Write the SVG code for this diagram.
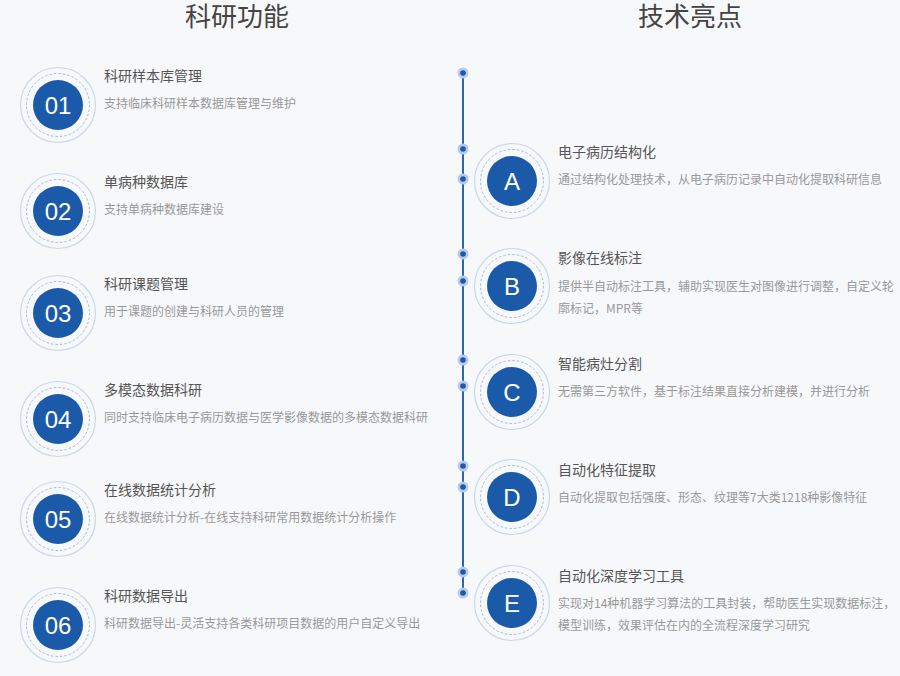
<svg xmlns="http://www.w3.org/2000/svg" width="900" height="676" viewBox="0 0 900 676">
<defs>
<style>
.bg{fill:#f7f8fa}
.hd{font-family:"Noto Sans CJK SC","Liberation Sans",sans-serif;font-size:26px;fill:#444;text-anchor:middle}
.o{fill:none;stroke:#c9d8ee;stroke-width:1.2}
.d{fill:none;stroke:#9fb9de;stroke-width:1;stroke-dasharray:2.5 2}
.f{fill:#1b5aa9}
.n{font-family:"Liberation Sans",Arial,sans-serif;font-size:24px;fill:#fff;text-anchor:middle}
.t{font-family:"Noto Sans CJK SC","Liberation Sans",sans-serif;font-size:14px;fill:#555}
.s{font-family:"Noto Sans CJK SC","Liberation Sans",sans-serif;font-size:12px;fill:#999}
.dl{fill:#b9cbed}
.dd{fill:#1b5aa9}
</style>
</defs>
<rect class="bg" x="0" y="0" width="900" height="676"/>
<text class="hd" x="237" y="26">科研功能</text>
<text class="hd" x="690" y="26">技术亮点</text>

<g id="timeline">
<line x1="463" y1="73" x2="463" y2="593" stroke="#2e64ae" stroke-width="2"/>
<g>
<circle class="dl" cx="463" cy="73" r="5.5"/><circle class="dd" cx="463" cy="73" r="2.8"/>
<circle class="dl" cx="463" cy="149" r="5.5"/><circle class="dd" cx="463" cy="149" r="2.8"/>
<circle class="dl" cx="463" cy="179" r="5.5"/><circle class="dd" cx="463" cy="179" r="2.8"/>
<circle class="dl" cx="463" cy="254" r="5.5"/><circle class="dd" cx="463" cy="254" r="2.8"/>
<circle class="dl" cx="463" cy="281" r="5.5"/><circle class="dd" cx="463" cy="281" r="2.8"/>
<circle class="dl" cx="463" cy="360" r="5.5"/><circle class="dd" cx="463" cy="360" r="2.8"/>
<circle class="dl" cx="463" cy="386" r="5.5"/><circle class="dd" cx="463" cy="386" r="2.8"/>
<circle class="dl" cx="463" cy="466" r="5.5"/><circle class="dd" cx="463" cy="466" r="2.8"/>
<circle class="dl" cx="463" cy="487" r="5.5"/><circle class="dd" cx="463" cy="487" r="2.8"/>
<circle class="dl" cx="463" cy="572" r="5.5"/><circle class="dd" cx="463" cy="572" r="2.8"/>
<circle class="dl" cx="463" cy="593" r="5.5"/><circle class="dd" cx="463" cy="593" r="2.8"/>
</g>
</g>

<g id="f01">
<circle class="o" cx="58" cy="105" r="37.5"/><circle class="d" cx="58" cy="105" r="31.5"/><circle class="f" cx="58" cy="105" r="25"/>
<text class="n" x="58" y="113.5">01</text>
<text class="t" x="104" y="81">科研样本库管理</text>
<text class="s" x="104" y="108">支持临床科研样本数据库管理与维护</text>
</g>
<g id="f02">
<circle class="o" cx="58" cy="211" r="37.5"/><circle class="d" cx="58" cy="211" r="31.5"/><circle class="f" cx="58" cy="211" r="25"/>
<text class="n" x="58" y="219.5">02</text>
<text class="t" x="104" y="187">单病种数据库</text>
<text class="s" x="104" y="214">支持单病种数据库建设</text>
</g>
<g id="f03">
<circle class="o" cx="58" cy="313" r="37.5"/><circle class="d" cx="58" cy="313" r="31.5"/><circle class="f" cx="58" cy="313" r="25"/>
<text class="n" x="58" y="321.5">03</text>
<text class="t" x="104" y="289">科研课题管理</text>
<text class="s" x="104" y="316">用于课题的创建与科研人员的管理</text>
</g>
<g id="f04">
<circle class="o" cx="58" cy="419" r="37.5"/><circle class="d" cx="58" cy="419" r="31.5"/><circle class="f" cx="58" cy="419" r="25"/>
<text class="n" x="58" y="427.5">04</text>
<text class="t" x="104" y="395">多模态数据科研</text>
<text class="s" x="104" y="422">同时支持临床电子病历数据与医学影像数据的多模态数据科研</text>
</g>
<g id="f05">
<circle class="o" cx="58" cy="519" r="37.5"/><circle class="d" cx="58" cy="519" r="31.5"/><circle class="f" cx="58" cy="519" r="25"/>
<text class="n" x="58" y="527.5">05</text>
<text class="t" x="104" y="495">在线数据统计分析</text>
<text class="s" x="104" y="522">在线数据统计分析-在线支持科研常用数据统计分析操作</text>
</g>
<g id="f06">
<circle class="o" cx="58" cy="625" r="37.5"/><circle class="d" cx="58" cy="625" r="31.5"/><circle class="f" cx="58" cy="625" r="25"/>
<text class="n" x="58" y="633.5">06</text>
<text class="t" x="104" y="601">科研数据导出</text>
<text class="s" x="104" y="628">科研数据导出-灵活支持各类科研项目数据的用户自定义导出</text>
</g>

<g id="tA">
<circle class="o" cx="512" cy="181" r="37.5"/><circle class="d" cx="512" cy="181" r="31.5"/><circle class="f" cx="512" cy="181" r="25"/>
<text class="n" x="512" y="189.5">A</text>
<text class="t" x="558" y="157">电子病历结构化</text>
<text class="s" x="558" y="184">通过结构化处理技术，从电子病历记录中自动化提取科研信息</text>
</g>
<g id="tB">
<circle class="o" cx="512" cy="286" r="37.5"/><circle class="d" cx="512" cy="286" r="31.5"/><circle class="f" cx="512" cy="286" r="25"/>
<text class="n" x="512" y="294.5">B</text>
<text class="t" x="558" y="263">影像在线标注</text>
<text class="s" x="558" y="291">提供半自动标注工具，辅助实现医生对图像进行调整，自定义轮</text>
<text class="s" x="558" y="313">廓标记，MPR等</text>
</g>
<g id="tC">
<circle class="o" cx="512" cy="392" r="37.5"/><circle class="d" cx="512" cy="392" r="31.5"/><circle class="f" cx="512" cy="392" r="25"/>
<text class="n" x="512" y="400.5">C</text>
<text class="t" x="558" y="369">智能病灶分割</text>
<text class="s" x="558" y="396">无需第三方软件，基于标注结果直接分析建模，并进行分析</text>
</g>
<g id="tD">
<circle class="o" cx="512" cy="497" r="37.5"/><circle class="d" cx="512" cy="497" r="31.5"/><circle class="f" cx="512" cy="497" r="25"/>
<text class="n" x="512" y="505.5">D</text>
<text class="t" x="558" y="475">自动化特征提取</text>
<text class="s" x="558" y="502">自动化提取包括强度、形态、纹理等7大类1218种影像特征</text>
</g>
<g id="tE">
<circle class="o" cx="512" cy="603" r="37.5"/><circle class="d" cx="512" cy="603" r="31.5"/><circle class="f" cx="512" cy="603" r="25"/>
<text class="n" x="512" y="611.5">E</text>
<text class="t" x="558" y="581">自动化深度学习工具</text>
<text class="s" x="558" y="608">实现对14种机器学习算法的工具封装，帮助医生实现数据标注，</text>
<text class="s" x="558" y="630">模型训练，效果评估在内的全流程深度学习研究</text>
</g>
</svg>
